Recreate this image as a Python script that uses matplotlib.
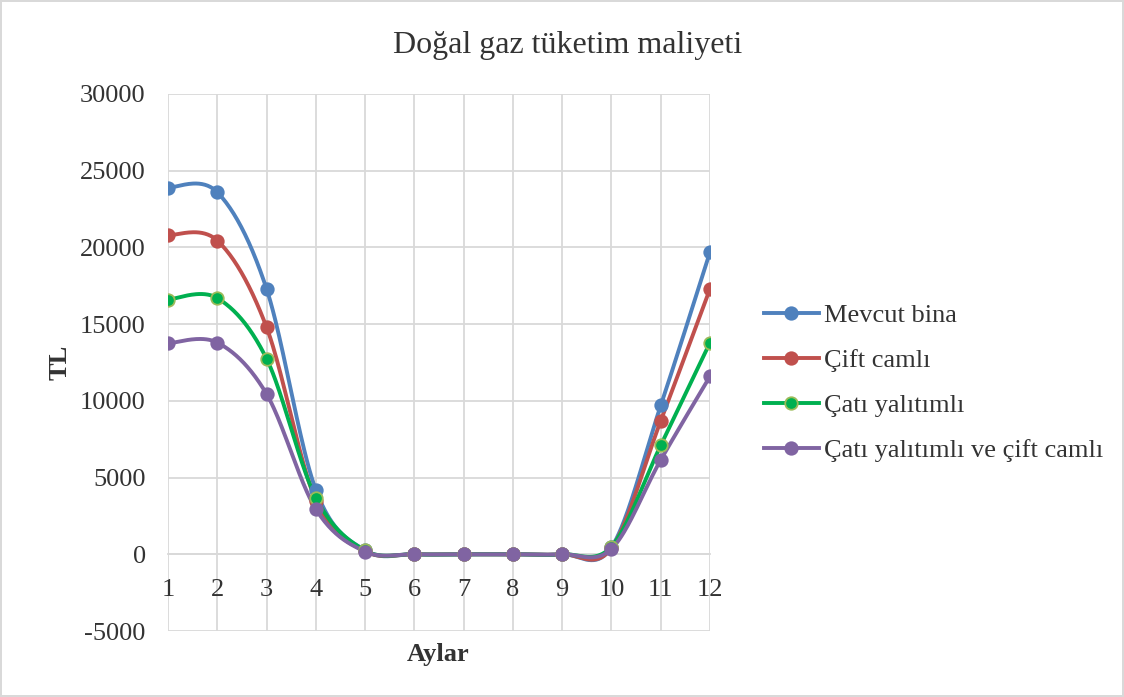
import numpy as np
import matplotlib.pyplot as plt

plt.rcParams['font.family'] = ['Liberation Serif', 'DejaVu Serif']
plt.rcParams['axes.unicode_minus'] = False

months = list(range(1, 13))
mevcut = [23900, 23600, 17300, 4200, 250, 0, 0, 0, 0, 450, 9700, 19700]
cift_camli = [20800, 20450, 14800, 3500, 200, 0, 0, 0, 0, 400, 8700, 17300]
cati_yalitimli = [16600, 16700, 12750, 3700, 250, 0, 0, 0, 0, 500, 7100, 13800]
cati_ve_cift = [13750, 13800, 10450, 2950, 180, 0, 0, 0, 0, 350, 6150, 11600]

labels = ["Mevcut bina", "Çift camlı", "Çatı yalıtımlı", "Çatı yalıtımlı ve çift camlı"]
colors = ["#4F81BD", "#C0504D", "#00B050", "#8064A2"]
edges = ["#4F81BD", "#C0504D", "#9BBB59", "#8064A2"]


# smoothed line through the points (Catmull-Rom as cubic Bezier segments)
def smooth(x, y, n=40):
    p = np.column_stack([x, y]).astype(float)
    last = len(p) - 1
    out = []
    t = np.linspace(0, 1, n)[:, None]
    for i in range(last):
        p0 = p[max(i - 1, 0)]
        p1 = p[i]
        p2 = p[i + 1]
        p3 = p[min(i + 2, last)]
        c1 = p1 + (p2 - p0) / 6
        c2 = p2 - (p3 - p1) / 6
        seg = ((1 - t) ** 3) * p1 + 3 * ((1 - t) ** 2) * t * c1 \
            + 3 * (1 - t) * t ** 2 * c2 + t ** 3 * p2
        out.append(seg if i == 0 else seg[1:])
    out = np.vstack(out)
    return out[:, 0], out[:, 1]


fig = plt.figure(figsize=(11.24, 6.97), dpi=100)
fig.patch.set_edgecolor("#D9D9D9")
fig.patch.set_linewidth(1.5)
ax = fig.add_axes([168 / 1124, 1 - 631 / 697, (710 - 168) / 1124, (631 - 94) / 697])

for vals, lab, c, ec in zip([mevcut, cift_camli, cati_yalitimli, cati_ve_cift], labels, colors, edges):
    sx, sy = smooth(months, vals)
    ax.plot(sx, sy, color=c, lw=2.8, solid_capstyle="round", zorder=3)
    ax.plot(months, vals, "o", color=c, mec=ec, mew=1.3, ms=9, zorder=4)
    # proxy for the legend entry
    ax.plot([], [], "-o", color=c, mec=ec, mew=1.3, ms=9, lw=2.8, label=lab)

ax.set_xlim(1, 12)
ax.set_ylim(-5000, 30000)
ax.set_xticks(months)
ax.set_yticks(range(-5000, 30001, 5000))
ax.grid(True, color="#D9D9D9", lw=1.3)
ax.set_axisbelow(True)
for s in ["top", "right", "left"]:
    ax.spines[s].set_visible(False)
ax.spines["bottom"].set_position(("data", 0))
ax.spines["bottom"].set_color("#D9D9D9")
ax.spines["bottom"].set_linewidth(1.3)
ax.tick_params(axis="both", length=0, labelsize=19)
ax.tick_params(axis="x", pad=18)
ax.tick_params(axis="y", pad=16)
for t in ax.get_xticklabels() + ax.get_yticklabels():
    t.set_color("#333333")

ax.set_ylabel("TL", fontsize=19, fontweight="bold", color="#333333")
ax.yaxis.set_label_coords(-0.178, 0.5)
fig.text(438 / 1124, 1 - 655 / 697, "Aylar", fontsize=19, fontweight="bold",
         color="#333333", ha="center", va="center")
fig.text(568 / 1124, 1 - 46 / 697, "Doğal gaz tüketim maliyeti", fontsize=23,
         color="#333333", ha="center", va="center")

h, l = ax.get_legend_handles_labels()
fig.legend(h, l, loc="center left", bbox_to_anchor=(740 / 1124, 1 - 383 / 697),
           frameon=False, fontsize=19, handlelength=2.1, handletextpad=0.2,
           labelspacing=0.82, labelcolor="#333333")

fig.savefig("out.png", dpi=100)
